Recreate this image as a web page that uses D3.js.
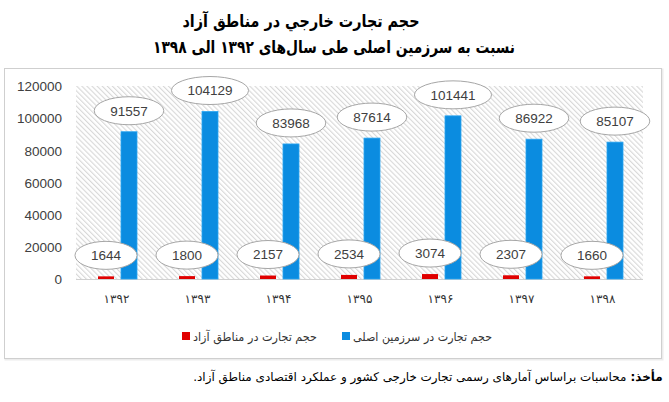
<!DOCTYPE html>
<html><head><meta charset="utf-8">
<script src="https://cdn.jsdelivr.net/npm/d3@7/dist/d3.min.js"></script>
<style>
html,body{margin:0;padding:0;background:#fff;}
svg{display:block;}
</style></head>
<body>
<svg id="c" width="669" height="402"></svg>
<script>
// ---- data ----
const years = ["۱۳۹۲","۱۳۹۳","۱۳۹۴","۱۳۹۵","۱۳۹۶","۱۳۹۷","۱۳۹۸"];
const freeZoneTrade = [1644, 1800, 2157, 2534, 3074, 2307, 1660];
const mainlandTrade = [91557, 104129, 83968, 87614, 101441, 86922, 85107];
const yTicks = [0, 20000, 40000, 60000, 80000, 100000, 120000];
const seriesNames = ["حجم تجارت در مناطق آزاد", "حجم تجارت در سرزمین اصلی"];
const seriesColors = ["#e00000", "#0b8ce0"];
const titleLine1 = "حجم تجارت خارجي در مناطق آزاد";
const titleLine2 = "نسبت به سرزمین اصلی طی سال‌های ۱۳۹۲ الی ۱۳۹۸";
const sourceLabel = "مأخذ:";
const sourceText = "محاسبات براساس آمارهای رسمی تجارت خارجی کشور و عملکرد اقتصادی مناطق آزاد.";

const svg = d3.select("#c");
const arabicFont = "'DejaVu Sans', sans-serif";
const numFont = "'Liberation Sans', Arial, sans-serif";

// hatch pattern
const defs = svg.append("defs");
const pat = defs.append("pattern").attr("id","hatch").attr("patternUnits","userSpaceOnUse")
  .attr("width",3.6).attr("height",3.6).attr("patternTransform","rotate(-45)");
pat.append("rect").attr("width",3.6).attr("height",3.6).attr("fill","#ffffff");
pat.append("line").attr("x1",0.6).attr("y1",0).attr("x2",0.6).attr("y2",3.6)
  .attr("stroke","#d4d4d4").attr("stroke-width",1);

// chart frame
svg.append("rect").attr("x",5.5).attr("y",69.5).attr("width",657).attr("height",290)
  .attr("fill","none").attr("stroke","#ececec").attr("stroke-width",2);
svg.append("rect").attr("x",4.5).attr("y",68.5).attr("width",657).attr("height",290)
  .attr("fill","#fff").attr("stroke","#cfcfcf").attr("stroke-width",1);

// titles
function fitText(sel, w){ sel.attr("textLength", w).attr("lengthAdjust","spacingAndGlyphs"); return sel; }
function fitSize(sel, w, base){ const n = sel.node().getComputedTextLength(); sel.attr("font-size", base * w / n); return sel; }
fitText(svg.append("text").attr("x",301).attr("y",27).attr("text-anchor","middle")
  .attr("direction","rtl").attr("font-family",arabicFont).attr("font-weight","bold")
  .attr("font-size",17).attr("fill","#000").text(titleLine1), 237);
fitText(svg.append("text").attr("x",334).attr("y",53).attr("text-anchor","middle")
  .attr("direction","rtl").attr("font-family",arabicFont).attr("font-weight","bold")
  .attr("font-size",17).attr("fill","#000").text(titleLine2), 362);

// scales
const plotL = 76, plotR = 643, plotT = 86, plotB = 279;
const x = d3.scaleBand().domain(years).range([plotL, plotR]).paddingInner(0).paddingOuter(0);
const xs = d3.scaleBand().domain([0,1]).range([22, 61]).paddingInner(0.304).paddingOuter(0);
const y = d3.scaleLinear().domain([0,120000]).range([plotB, plotT]);

// plot background
svg.append("rect").attr("x",plotL).attr("y",plotT).attr("width",plotR-plotL).attr("height",plotB-plotT)
  .attr("fill","url(#hatch)");

// baseline
svg.append("line").attr("x1",plotL).attr("x2",plotR).attr("y1",plotB+0.5).attr("y2",plotB+0.5)
  .attr("stroke","#d0d0d0").attr("stroke-width",1);

// y axis
const yAxis = d3.axisLeft(y).tickValues(yTicks).tickFormat(d3.format("d")).tickSize(0).tickPadding(0);
const gy = svg.append("g").attr("transform","translate(62,0)").call(yAxis);
gy.select(".domain").remove();
gy.selectAll("text").attr("font-family",numFont).attr("font-size",13.5).attr("fill","#404040").attr("dy","0.35em");

// x axis labels
const xAxis = d3.axisBottom(x).tickSize(0).tickPadding(0);
const gx = svg.append("g").attr("transform",`translate(0,${plotB+15})`).call(xAxis);
gx.select(".domain").remove();
gx.selectAll("text").attr("font-family",arabicFont).attr("font-size",12).attr("fill","#333").attr("dy","0.71em");

// bars
const series = [freeZoneTrade, mainlandTrade];
series.forEach((vals, si) => {
  const g = svg.append("g");
  g.selectAll("rect").data(vals).join("rect")
    .attr("x",(d,i)=>x(years[i]) + xs(si))
    .attr("width", xs.bandwidth())
    .attr("y", d=>y(d))
    .attr("height", d=>plotB - y(d))
    .attr("fill", seriesColors[si])
    .attr("stroke", si===1 ? "#2aa6f2" : "none")
    .attr("stroke-width", si===1 ? 0.8 : 0);
});

// labels (ellipse callouts)
series.forEach((vals, si) => {
  vals.forEach((v, i) => {
    const cx = x(years[i]) + xs(si) + xs.bandwidth()/2;
    const cy = y(v) - 21;
    const g = svg.append("g");
    const el = g.append("ellipse").attr("cx",cx).attr("cy",cy).attr("ry",14)
      .attr("fill","#fff").attr("stroke","#a6a6a6").attr("stroke-width",1);
    const t = g.append("text").attr("x",cx).attr("y",cy).attr("dy","0.36em")
      .attr("text-anchor","middle").attr("font-family",numFont).attr("font-size",13.5)
      .attr("fill","#404040").text(v);
    const tw = t.node().getComputedTextLength();
    el.attr("rx", Math.max(28.5, tw/2 + 16));
  });
});

// legend
const legend = [
  {sq: 182, tx: 193, tw: 124, i: 0},
  {sq: 342, tx: 353, tw: 139, i: 1}
];
legend.forEach(L => {
  svg.append("rect").attr("x",L.sq).attr("y",332).attr("width",8).attr("height",8)
    .attr("fill",seriesColors[L.i]);
  fitText(svg.append("text").attr("x",L.tx + L.tw/2).attr("y",341).attr("text-anchor","middle")
    .attr("direction","rtl").attr("font-family",arabicFont).attr("font-size",12)
    .attr("fill","#333").text(seriesNames[L.i]), L.tw);
});

// source note: one text, two runs, font size chosen to fit 193..663
const src = svg.append("text").attr("x",(193+663)/2).attr("y",381).attr("text-anchor","middle")
  .attr("direction","rtl").attr("font-family",arabicFont).attr("font-size",13).attr("fill","#000");
src.append("tspan").attr("font-weight","bold").text(sourceLabel + " ");
src.append("tspan").text(sourceText);
fitSize(src, 470, 13);
</script>
</body></html>
